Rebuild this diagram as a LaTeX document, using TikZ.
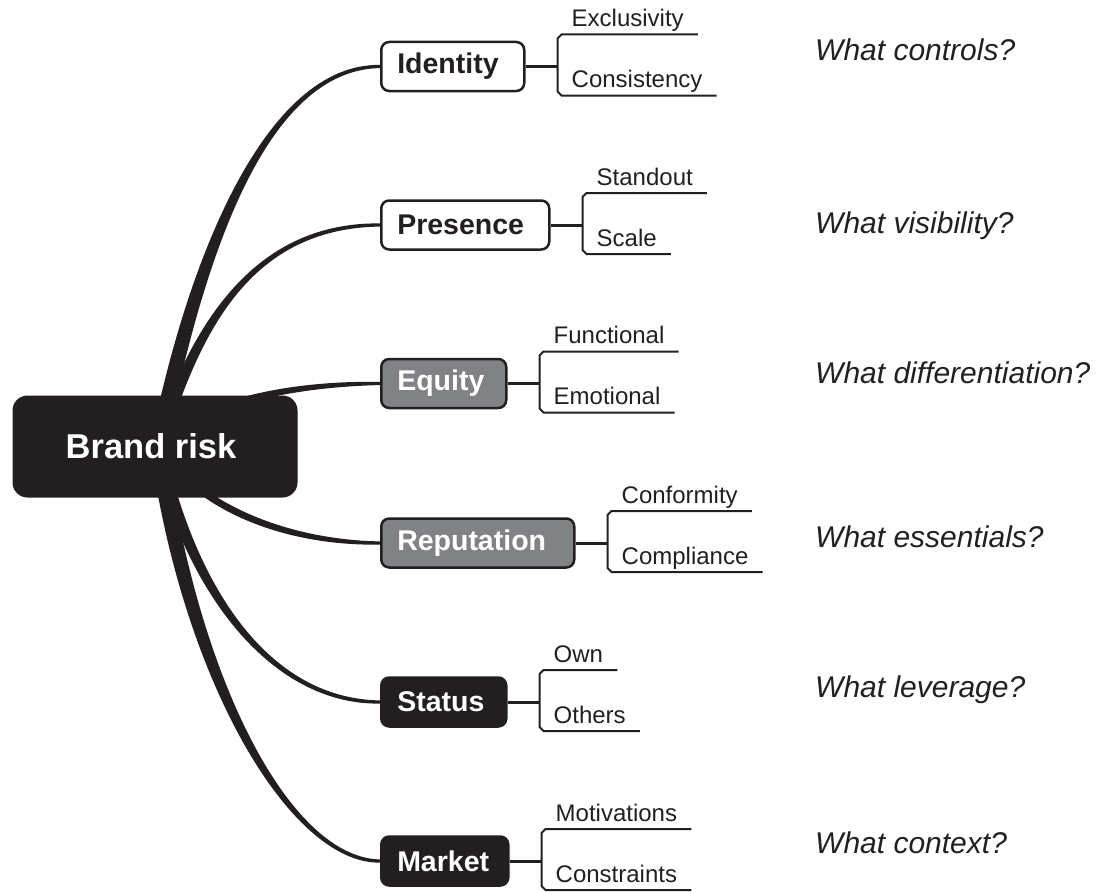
\documentclass[tikz,border=0pt]{standalone}
\usepackage{fontspec}
\setmainfont{Liberation Sans}
\usetikzlibrary{calc}
\definecolor{ink}{RGB}{35,31,32}
\definecolor{midgray}{RGB}{128,130,133}
\pgfdeclarelayer{background}
\pgfsetlayers{background,main}

% tapered branch: start, control 1, control 2, end, half-width offset at start, half-width offset at end
\newcommand\taper[6]{%
  \fill[ink] ($#1+#5$) .. controls ($#2+#5$) and ($#3+2*#6$) .. ($#4+#6$)
    -- ($#4-#6$) .. controls ($#3-2*#6$) and ($#2-#5$) .. ($#1-#5$) -- cycle;}

% link from a topic box to its bracket with two underlined sub-topics
\newcommand\leaves[3]{%
  \draw[link] (#1.east) -- ++(32,0) coordinate (#1-b);
  \node[leaf] (#1-t) at ($(#1-b)+(14,-40)$) {#2};
  \node[leaf] (#1-l) at ($(#1-b)+(14,21)$) {#3};
  \draw[bracket] ($(#1-t.base east)+(14,8)$) -- ($(#1-b)+(4,-32)$) -- ($(#1-b)+(0,-28)$)
    -- ($(#1-b)+(0,25)$) -- ($(#1-b)+(4,29)$) -- ($(#1-l.base east)+(14,8)$);}

\begin{document}
\begin{tikzpicture}[x=1pt,y=-1pt,
  topic/.style={draw=ink, line width=2.5pt, rounded corners=8pt, minimum height=49pt,
    anchor=west, inner xsep=16pt, inner ysep=0pt, align=left,
    font=\fontsize{28.5}{30}\selectfont\bfseries},
  lightbox/.style={topic, fill=white, text=ink},
  greybox/.style={topic, fill=midgray, text=white},
  darkbox/.style={topic, fill=ink, text=white},
  leaf/.style={anchor=base west, inner sep=0pt, font=\fontsize{24}{26}\selectfont, text=ink},
  question/.style={anchor=base west, inner sep=0pt, font=\fontsize{30}{32}\selectfont\itshape, text=ink},
  link/.style={draw=ink, line width=3pt},
  bracket/.style={draw=ink, line width=2pt},
]
\useasboundingbox (0,0) rectangle (1099,891);

% central topic
\node[fill=ink, rounded corners=15pt, minimum width=285pt, minimum height=102pt, text=white,
  font=\fontsize{34.5}{36}\selectfont\bfseries] (root) at (155,446.5) {Brand risk\kern8pt};
\coordinate (hub) at (158,446);

% main topics
\node[lightbox, text width=111pt] (identity) at (380,66.5) {Identity};
\node[lightbox, text width=136pt] (presence) at (380,225) {Presence};
\node[greybox, text width=93pt] (equity) at (380,383.5) {Equity};
\node[greybox, text width=161pt] (reputation) at (380,543) {Reputation};
\node[darkbox, text width=93pt] (status) at (380,702) {Status};
\node[darkbox, text width=95pt] (market) at (380,861) {Market};

% sub-topics
\leaves{identity}{Exclusivity}{Consistency}
\leaves{presence}{Standout}{Scale}
\leaves{equity}{Functional}{Emotional}
\leaves{reputation}{Conformity}{Compliance}
\leaves{status}{Own}{Others}
\leaves{market}{Motivations}{Constraints}

% guiding questions
\node[question] (q1) at (815,60) {What controls?};
\node[question] (q2) at (815,233) {What visibility?};
\node[question] (q3) at (815,383) {What differentiation?};
\node[question] (q4) at (815,547) {What essentials?};
\node[question] (q5) at (815,697) {What leverage?};
\node[question] (q6) at (815,853) {What context?};

% tapered branches from the central topic
\begin{pgfonlayer}{background}
\taper{(hub)}{(195,260)}{(265,66.5)}{(identity.west)}{(-8,0)}{(0,-1.6)}
\taper{(hub)}{(192,340)}{(245,225)}{(presence.west)}{(-6.5,0)}{(0,-1.6)}
\taper{(hub)}{(200,400)}{(300,383.5)}{(equity.west)}{(0,-4)}{(0,-1.6)}
\taper{(hub)}{(200,510)}{(290,543)}{(reputation.west)}{(0,-4.5)}{(0,-1.6)}
\taper{(hub)}{(190,590)}{(270,702)}{(status.west)}{(-6.5,0)}{(0,1.6)}
\taper{(hub)}{(190,680)}{(290,861)}{(market.west)}{(-8,0)}{(0,1.6)}
\end{pgfonlayer}
\end{tikzpicture}
\end{document}
